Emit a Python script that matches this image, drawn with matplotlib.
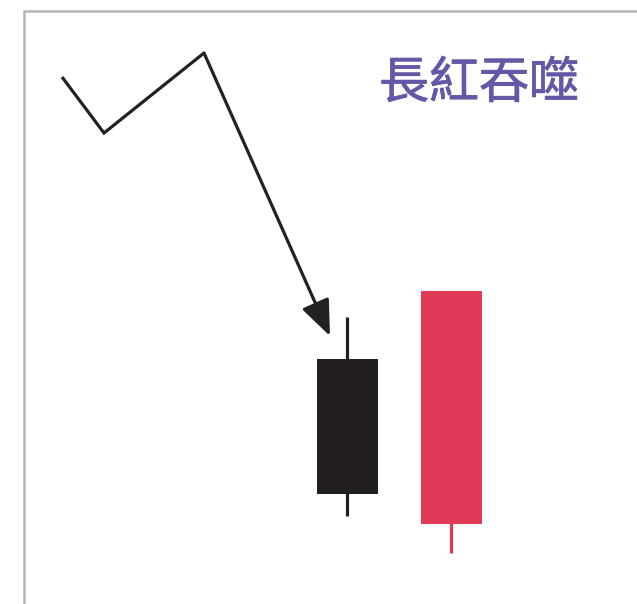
import matplotlib
matplotlib.use("Agg")
import matplotlib.pyplot as plt
from matplotlib.patches import Rectangle
import matplotlib.patheffects as pe

plt.rcParams['font.family'] = ['Noto Sans CJK TC', 'DejaVu Sans']

# ---- data ----
title = "長紅吞噬"
# trend line before the pattern (x position, price)
trend_x = [62, 104, 204]
trend_y = [527, 471, 551]
arrow_end_x = 330
arrow_end_y = 268

# candles: x position, open, high, low, close
candle_x = [347, 451]
candle_open = [245, 80]
candle_high = [287, 313]
candle_low = [88, 51]
candle_close = [110, 313]
candle_colors = ["#231f20", "#df3b57"]
body_width = 61

fig = plt.figure(figsize=(6.37, 6.04), dpi=100)
ax = fig.add_axes([0, 0, 1, 1])
ax.set_xlim(0, 637)
ax.set_ylim(0, 604)
ax.axis('off')

# frame
ax.plot([24, 24, 637], [0, 593, 593], color="#b5b5b5", lw=1.8, solid_joinstyle='miter')

# trend line
ax.plot(trend_x, trend_y, color="#222222", lw=2.3, solid_joinstyle='miter', solid_capstyle='butt')
ax.annotate("", xy=(arrow_end_x, arrow_end_y), xytext=(trend_x[-1], trend_y[-1]),
            arrowprops=dict(arrowstyle="-|>,head_length=2.2,head_width=0.9",
                            color="#222222", lw=2.3, shrinkA=0, shrinkB=0))

# candles
for x, o, h, l, c, col in zip(candle_x, candle_open, candle_high, candle_low, candle_close, candle_colors):
    top, bot = max(o, c), min(o, c)
    ax.plot([x, x], [l, h], color=col, lw=2.3, solid_capstyle='butt', zorder=2)
    ax.add_patch(Rectangle((x - body_width / 2, bot), body_width, top - bot,
                           facecolor=col, edgecolor='none', zorder=3))

ax.text(479, 520, title, color="#6557a6", fontsize=36, ha='center', va='center',
        fontweight='normal',
        path_effects=[pe.withStroke(linewidth=0.5, foreground="#6557a6")])

fig.savefig("out.png", dpi=100)
